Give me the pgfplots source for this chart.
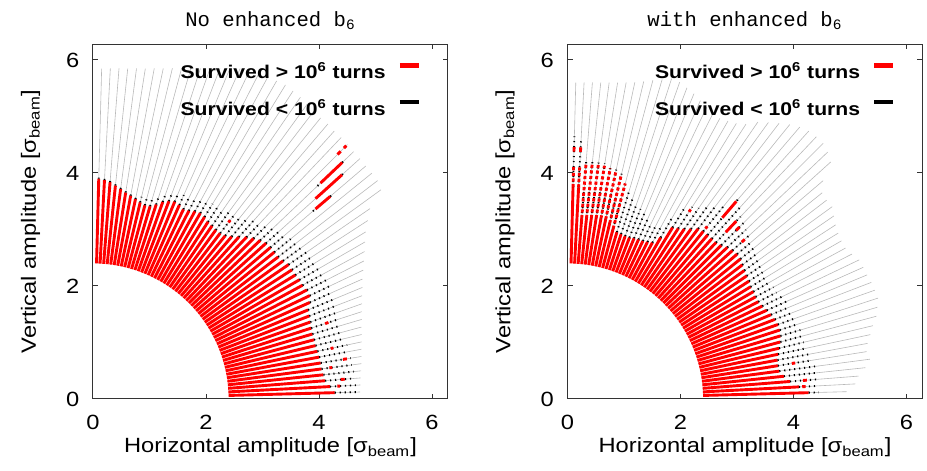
\documentclass[border=0pt]{standalone}
\usepackage{fontspec}
\setmainfont{Liberation Sans}[FakeStretch=1.15]
\newfontfamily\monofont{Liberation Mono}
\usepackage{pgfplots}
\pgfplotsset{compat=1.18}
\usepgfplotslibrary{polar}
\definecolor{raygray}{RGB}{185,185,185}
\pgfplotsset{
 dapanel/.style={
  scale only axis, width=177.5pt, height=177.5pt,
  xmin=0, xmax=6.283, ymin=0, ymax=6.283,
  data cs=polar,
  xtick={0,2,4,6}, ytick={0,2,4,6}, tick pos=both, tick align=inside,
  major tick length=2.5pt, minor tick num=0,
  axis line style={line width=0.5pt, black!80},
  every tick/.style={line width=0.5pt, black!80},
  /pgf/number format/assume math mode=true,
  tick label style={font=\fontsize{10.3}{12}\selectfont},
  xticklabel style={anchor=base, yshift=-15.5pt},
  yticklabel style={anchor=east, xshift=-3.3pt},
  label style={font=\fontsize{10.3}{12}\selectfont},
  xlabel={Horizontal amplitude [σ\textsubscript{beam}]},
  ylabel={Vertical amplitude [σ\textsubscript{beam}]},
  xlabel style={at={(axis description cs:0.5,-0.152)}, anchor=base},
  ylabel style={at={(axis description cs:-0.1606,0.5)}, anchor=base},
  every axis title shift=0pt,
  title style={font=\monofont\fontsize{10.3}{12}\selectfont, at={(axis description cs:0.5,1.0507)}, anchor=base},
  legend style={draw=none, fill=none, at={(axis description cs:0.924,0.946)}, anchor=north east,
    inner sep=0pt, outer sep=0pt, row sep=10.5pt, column sep=6pt,
    font=\bfseries\fontsize{9.2}{11}\selectfont,
    nodes={inner sep=0pt, text height=7pt, text depth=0pt}},
  legend plot pos=right, legend cell align=right,
  legend image code/.code={\draw[##1, solid, line width=2.2pt, line cap=butt] (0pt,3.3pt) -- (9.5pt,3.3pt);},
 },
 grayray/.style={draw=raygray, line width=0.3pt, forget plot},
 blackdot/.style={draw=black, line width=0.95pt, dash pattern=on 0.6pt off 1.9pt},
 redray/.style={draw=red, line width=1.45pt},
 redmix/.style={draw=red, line width=1.45pt, dash pattern=on 1.6pt off 1.2pt, forget plot},
 redbit/.style={draw=red, line width=1.45pt, forget plot},
}
\begin{document}
\begin{tikzpicture}
\useasboundingbox (0,0) rectangle (463.5pt,235.5pt);
% ================= LEFT PANEL =================
\begin{axis}[dapanel, at={(46.5pt,36pt)}, anchor=south west, title={No enhanced b\textsubscript{6}}]
\addplot[grayray] table {
88.5 2.4
88.5 5.85

87 2.4
87 5.86

85.5 2.4
85.5 5.87

84 2.4
84 5.88

82.5 2.4
82.5 5.90

81 2.4
81 5.92

79.5 2.4
79.5 5.95

78 2.4
78 5.98

76.5 2.4
76.5 6.02

75 2.4
75 6.06

73.5 2.4
73.5 6.10

72 2.4
72 6.15

70.5 2.4
70.5 6.20

69 2.4
69 6.27

67.5 2.4
67.5 6.33

66 2.4
66 6.40

64.5 2.4
64.5 6.48

63 2.4
63 6.50

61.5 2.4
61.5 6.50

60 2.4
60 6.50

58.5 2.4
58.5 6.52

57 2.4
57 6.50

55.5 2.4
55.5 6.48

54 2.4
54 6.45

52.5 2.4
52.5 6.42

51 2.4
51 6.40

49.5 2.4
49.5 6.40

48 2.4
48 6.38

46.5 2.4
46.5 6.38

45 2.4
45 6.37

43.5 2.4
43.5 6.36

42 2.4
42 6.36

40.5 2.4
40.5 6.35

39 2.4
39 6.35

37.5 2.4
37.5 6.35

36 2.4
36 6.30

34.5 2.4
34.5 5.95

33 2.4
33 5.80

31.5 2.4
31.5 5.66

30 2.4
30 5.56

28.5 2.4
28.5 5.47

27 2.4
27 5.38

25.5 2.4
25.5 5.30

24 2.4
24 5.22

22.5 2.4
22.5 5.16

21 2.4
21 5.10

19.5 2.4
19.5 5.05

18 2.4
18 5.00

16.5 2.4
16.5 4.96

15 2.4
15 4.92

13.5 2.4
13.5 4.89

12 2.4
12 4.86

10.5 2.4
10.5 4.83

9 2.4
9 4.81

7.5 2.4
7.5 4.79

6 2.4
6 4.77

4.5 2.4
4.5 4.75

3 2.4
3 4.74

1.5 2.4
1.5 4.73
};
\addplot[redray] table {
88.5 2.4
88.5 3.90

87 2.4
87 3.88

85.5 2.4
85.5 3.85

84 2.4
84 3.80

82.5 2.4
82.5 3.75

81 2.4
81 3.70

79.5 2.4
79.5 3.66

78 2.4
78 3.62

76.5 2.4
76.5 3.58

75 2.4
75 3.55

73.5 2.4
73.5 3.56

72 2.4
72 3.62

70.5 2.4
70.5 3.70

69 2.4
69 3.75

67.5 2.4
67.5 3.78

66 2.4
66 3.76

64.5 2.4
64.5 3.72

63 2.4
63 3.74

61.5 2.4
61.5 3.78

60 2.4
60 3.80

58.5 2.4
58.5 3.78

57 2.4
57 3.74

55.5 2.4
55.5 3.72

54 2.4
54 3.70

52.5 2.4
52.5 3.70

51 2.4
51 3.72

49.5 2.4
49.5 3.78

48 2.4
48 3.86

46.5 2.4
46.5 3.95

45 2.4
45 4.02

43.5 2.4
43.5 4.08

42 2.4
42 4.12

40.5 2.4
40.5 4.13

39 2.4
39 4.13

37.5 2.4
37.5 4.13

36 2.4
36 4.16

34.5 2.4
34.5 4.20

33 2.4
33 4.20

31.5 2.4
31.5 4.20

30 2.4
30 4.22

28.5 2.4
28.5 4.22

27 2.4
27 4.25

25.5 2.4
25.5 4.25

24 2.4
24 4.20

22.5 2.4
22.5 4.12

21 2.4
21 4.10

19.5 2.4
19.5 4.08

18 2.4
18 4.06

16.5 2.4
16.5 4.05

15 2.4
15 4.05

13.5 2.4
13.5 4.05

12 2.4
12 4.06

10.5 2.4
10.5 4.07

9 2.4
9 4.08

7.5 2.4
7.5 4.08

6 2.4
6 4.10

4.5 2.4
4.5 4.12

3 2.4
3 4.20

1.5 2.4
1.5 4.28
};
\addlegendentry{Survived > 10\textsuperscript{6} turns}
\addplot[blackdot] table {
88.5 3.90
88.5 3.97

87 3.88
87 3.95

85.5 3.85
85.5 3.92

84 3.80
84 3.88

82.5 3.75
82.5 3.82

81 3.70
81 3.78

79.5 3.66
79.5 3.74

78 3.62
78 3.70

76.5 3.58
76.5 3.68

75 3.55
75 3.66

73.5 3.56
73.5 3.68

72 3.62
72 3.74

70.5 3.70
70.5 3.82

69 3.75
69 3.88

67.5 3.78
67.5 3.92

66 3.76
66 3.95

64.5 3.72
64.5 3.95

63 3.74
63 3.95

61.5 3.78
61.5 4.00

60 3.80
60 4.05

58.5 3.78
58.5 4.05

57 3.74
57 4.05

55.5 3.72
55.5 4.05

54 3.70
54 4.10

52.5 3.70
52.5 4.10

51 3.72
51 4.15

49.5 3.78
49.5 4.20

48 3.86
48 4.25

46.5 3.95
46.5 4.30

45 4.02
45 4.35

43.5 4.08
43.5 4.40

42 4.12
42 4.45

40.5 4.13
40.5 4.48

39 4.13
39 4.50

37.5 4.13
37.5 4.52

36 4.16
36 4.55

34.5 4.20
34.5 4.58

33 4.20
33 4.60

31.5 4.20
31.5 4.60

30 4.22
30 4.62

28.5 4.22
28.5 4.62

27 4.25
27 4.64

25.5 4.25
25.5 4.64

24 4.20
24 4.64

22.5 4.12
22.5 4.62

21 4.10
21 4.60

19.5 4.08
19.5 4.60

18 4.06
18 4.58

16.5 4.05
16.5 4.56

15 4.05
15 4.55

13.5 4.05
13.5 4.58

12 4.06
12 4.60

10.5 4.07
10.5 4.60

9 4.08
9 4.62

7.5 4.08
7.5 4.62

6 4.10
6 4.64

4.5 4.12
4.5 4.65

3 4.20
3 4.66

1.5 4.28
1.5 4.66

43.5 5.48
43.5 5.55

43.5 6.08
43.5 6.15

42 5.93
42 6.00

40.5 5.12
40.5 5.18

40.5 5.52
40.5 5.58
};
\addlegendentry{Survived < 10\textsuperscript{6} turns}
\addplot[redbit] table {
45 6.12
45 6.20

45 6.28
45 6.34

43.5 5.55
43.5 6.08

42 5.30
42 5.93

40.5 5.18
40.5 5.52

52.5 3.94
52.5 3.99

18 4.32
18 4.38

12 4.30
12 4.35

9 4.48
9 4.55

7.5 4.22
7.5 4.27

4.5 4.40
4.5 4.47

3 4.33
3 4.38
};
\end{axis}
% ================= RIGHT PANEL =================
\begin{axis}[dapanel, at={(283.75pt,36pt)}, anchor=south west, title={with enhanced b\textsubscript{6}}]
\addplot[grayray] table {
88.5 2.4
88.5 5.60

87 2.4
87 5.61

85.5 2.4
85.5 5.62

84 2.4
84 5.63

82.5 2.4
82.5 5.65

81 2.4
81 5.67

79.5 2.4
79.5 5.70

78 2.4
78 5.73

76.5 2.4
76.5 5.78

75 2.4
75 5.84

73.5 2.4
73.5 5.90

72 2.4
72 5.96

70.5 2.4
70.5 5.95

69 2.4
69 5.90

67.5 2.4
67.5 5.85

66 2.4
66 5.78

64.5 2.4
64.5 5.72

63 2.4
63 5.70

61.5 2.4
61.5 5.65

60 2.4
60 5.68

58.5 2.4
58.5 5.72

57 2.4
57 5.80

55.5 2.4
55.5 5.95

54 2.4
54 6.05

52.5 2.4
52.5 6.15

51 2.4
51 6.25

49.5 2.4
49.5 6.33

48 2.4
48 6.38

46.5 2.4
46.5 6.40

45 2.4
45 6.40

43.5 2.4
43.5 6.35

42 2.4
42 6.27

40.5 2.4
40.5 5.95

39 2.4
39 5.80

37.5 2.4
37.5 5.78

36 2.4
36 5.79

34.5 2.4
34.5 5.72

33 2.4
33 5.66

31.5 2.4
31.5 5.62

30 2.4
30 5.60

28.5 2.4
28.5 5.60

27 2.4
27 5.65

25.5 2.4
25.5 5.72

24 2.4
24 5.73

22.5 2.4
22.5 5.74

21 2.4
21 5.76

19.5 2.4
19.5 5.77

18 2.4
18 5.78

16.5 2.4
16.5 5.72

15 2.4
15 5.66

13.5 2.4
13.5 5.56

12 2.4
12 5.48

10.5 2.4
10.5 5.40

9 2.4
9 5.36

7.5 2.4
7.5 5.40

6 2.4
6 5.30

4.5 2.4
4.5 5.17

3 2.4
3 5.10

1.5 2.4
1.5 4.94
};
\addplot[redray] table {
88.5 2.4
88.5 3.75

87 2.4
87 3.75

85.5 2.4
85.5 3.21

84 2.4
84 3.22

82.5 2.4
82.5 3.23

81 2.4
81 3.24

79.5 2.4
79.5 3.25

78 2.4
78 3.25

76.5 2.4
76.5 3.20

75 2.4
75 3.12

73.5 2.4
73.5 3.08

72 2.4
72 3.07

70.5 2.4
70.5 3.06

69 2.4
69 3.06

67.5 2.4
67.5 3.08

66 2.4
66 3.09

64.5 2.4
64.5 3.10

63 2.4
63 3.12

61.5 2.4
61.5 3.15

60 2.4
60 3.30

58.5 2.4
58.5 3.56

57 2.4
57 3.60

55.5 2.4
55.5 3.65

54 2.4
54 3.72

52.5 2.4
52.5 3.80

51 2.4
51 3.82

49.5 2.4
49.5 3.82

48 2.4
48 3.82

46.5 2.4
46.5 3.82

45 2.4
45 3.85

43.5 2.4
43.5 3.90

42 2.4
42 3.93

40.5 2.4
40.5 3.95

39 2.4
39 3.94

37.5 2.4
37.5 3.90

36 2.4
36 3.87

34.5 2.4
34.5 3.85

33 2.4
33 3.83

31.5 2.4
31.5 3.80

30 2.4
30 3.80

28.5 2.4
28.5 3.79

27 2.4
27 3.79

25.5 2.4
25.5 3.82

24 2.4
24 3.86

22.5 2.4
22.5 3.90

21 2.4
21 3.93

19.5 2.4
19.5 3.95

18 2.4
18 3.95

16.5 2.4
16.5 3.93

15 2.4
15 3.90

13.5 2.4
13.5 3.85

12 2.4
12 3.81

10.5 2.4
10.5 3.78

9 2.4
9 3.77

7.5 2.4
7.5 3.78

6 2.4
6 3.85

4.5 2.4
4.5 3.95

3 2.4
3 4.10

1.5 2.4
1.5 4.27
};
\addlegendentry{Survived > 10\textsuperscript{6} turns}
\addplot[blackdot] table {
88.5 3.75
88.5 4.65

87 3.75
87 4.60

85.5 3.21
85.5 4.22

84 3.22
84 4.22

82.5 3.23
82.5 4.22

81 3.24
81 4.22

79.5 3.25
79.5 4.20

78 3.25
78 4.15

76.5 3.20
76.5 4.10

75 3.12
75 4.00

73.5 3.08
73.5 3.85

72 3.07
72 3.75

70.5 3.06
70.5 3.65

69 3.06
69 3.60

67.5 3.08
67.5 3.55

66 3.09
66 3.50

64.5 3.10
64.5 3.45

63 3.12
63 3.45

61.5 3.15
61.5 3.50

60 3.30
60 3.70

58.5 3.56
58.5 3.95

57 3.60
57 4.05

55.5 3.65
55.5 4.10

54 3.72
54 4.20

52.5 3.80
52.5 4.30

51 3.82
51 4.40

49.5 3.82
49.5 4.65

48 3.82
48 4.60

46.5 3.82
46.5 4.45

45 3.85
45 4.40

43.5 3.90
43.5 4.35

42 3.93
42 4.35

40.5 3.95
40.5 4.30

39 3.94
39 4.25

37.5 3.90
37.5 4.20

36 3.87
36 4.20

34.5 3.85
34.5 4.15

33 3.83
33 4.15

31.5 3.80
31.5 4.15

30 3.80
30 4.15

28.5 3.79
28.5 4.15

27 3.79
27 4.15

25.5 3.82
25.5 4.20

24 3.86
24 4.25

22.5 3.90
22.5 4.25

21 3.93
21 4.28

19.5 3.95
19.5 4.30

18 3.95
18 4.30

16.5 3.93
16.5 4.30

15 3.90
15 4.30

13.5 3.85
13.5 4.30

12 3.81
12 4.32

10.5 3.78
10.5 4.35

9 3.77
9 4.38

7.5 3.78
7.5 4.42

6 3.85
6 4.45

4.5 3.95
4.5 4.45

3 4.10
3 4.45

1.5 4.27
1.5 4.45
};
\addlegendentry{Survived < 10\textsuperscript{6} turns}
\addplot[redmix] table {
88.5 3.75
88.5 4.12

87 3.75
87 4.12

85.5 3.21
85.5 4.16

84 3.22
84 4.17

82.5 3.23
82.5 4.18

81 3.24
81 4.18

79.5 3.25
79.5 4.15

78 3.25
78 4.10

76.5 3.20
76.5 4.05

75 3.12
75 3.95
};
\addplot[redbit] table {
88.5 4.38
88.5 4.46

87 4.38
87 4.46

49.5 4.22
49.5 4.60

46.5 4.07
46.5 4.34

57 3.95
57 4.00

51 3.88
51 3.93

45 4.22
45 4.30

42 4.15
42 4.22

9 4.02
9 4.08

4.5 4.18
4.5 4.25

3 4.16
3 4.22
};
\end{axis}
\end{tikzpicture}
\end{document}
